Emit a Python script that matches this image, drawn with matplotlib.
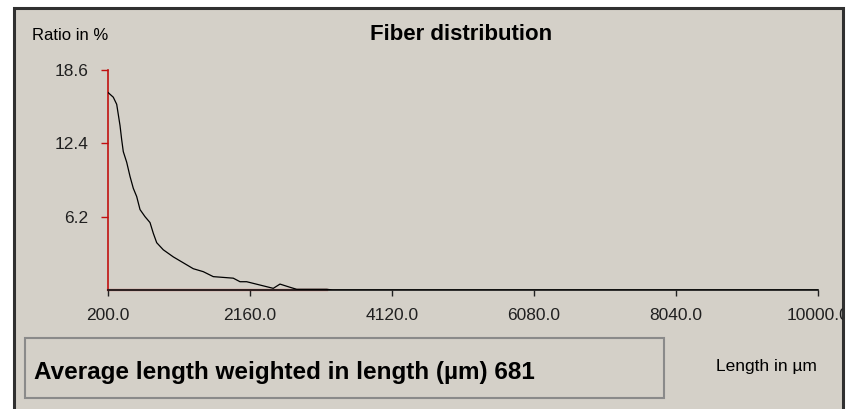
import matplotlib.pyplot as plt
from matplotlib.patches import Rectangle

# fiber length distribution (µm vs ratio in %)
length_um = [200, 273, 320, 366, 389, 411, 458, 504, 549, 596, 642, 711, 780,
             825, 872, 963, 1101, 1239, 1377, 1515, 1653, 1929, 2022, 2114,
             2298, 2481, 2574, 2712, 2804, 3218, 3300, 10000]
ratio_pct = [16.7, 16.3, 15.7, 13.9, 12.7, 11.7, 10.8, 9.6, 8.6, 7.9, 6.8, 6.2,
             5.7, 4.8, 4.0, 3.4, 2.8, 2.3, 1.8, 1.55, 1.13, 1.0, 0.7, 0.7,
             0.42, 0.14, 0.5, 0.23, 0.06, 0.06, 0.0, 0.0]
x_ticks = [200.0, 2160.0, 4120.0, 6080.0, 8040.0, 10000.0]
y_ticks = [6.2, 12.4, 18.6]
title = "Fiber distribution"
avg_text = "Average length weighted in length (µm) 681"

W, H = 852, 409
BG = '#d4d0c8'
RED = '#c01010'
FONT = ['Liberation Sans', 'DejaVu Sans']


def fx(x):
    return x / W


def fy(y):
    return 1 - y / H


fig = plt.figure(figsize=(W / 100, H / 100), dpi=100)
fig.patch.set_facecolor('white')

# window frame
frame = Rectangle((fx(14), fy(420)), fx(843) - fx(14), fy(8) - fy(420),
                  transform=fig.transFigure, facecolor=BG,
                  edgecolor='#303030', linewidth=2.2, zorder=-2)
fig.patches.append(frame)

ax = fig.add_axes([fx(108), fy(290), fx(818) - fx(108), fy(70) - fy(290)])
ax.set_facecolor('none')
ax.plot(length_um, ratio_pct, color='black', linewidth=0.9, zorder=3)
last = max(x for x, y in zip(length_um, ratio_pct) if y > 0)
ax.plot([length_um[0], last], [0, 0], color=RED, linewidth=1.6, alpha=0.8,
        clip_on=False, zorder=2)

ax.set_xlim(200, 10000)
ax.set_ylim(0, 18.6)
ax.set_xticks(x_ticks)
ax.set_xticklabels([f"{v:.1f}" for v in x_ticks], family=FONT, fontsize=12.5)
ax.set_yticks(y_ticks)
ax.set_yticklabels([f"{v:.1f}" for v in y_ticks], family=FONT, fontsize=12.5)
for s in ['top', 'right']:
    ax.spines[s].set_visible(False)
ax.spines['left'].set_color(RED)
ax.spines['left'].set_linewidth(1.2)
ax.spines['bottom'].set_color('#202020')
ax.spines['bottom'].set_linewidth(1.3)
ax.tick_params(axis='x', length=4, width=1, color='#202020', pad=9, labelcolor='#202020')
ax.tick_params(axis='y', length=5, width=1, color=RED, pad=9, labelcolor='#202020')

# the last label runs into the window edge and gets cut there
for lbl in ax.get_xticklabels():
    lbl.set_clip_path(frame)
    lbl.set_clip_on(True)

fig.text(fx(461), fy(34), title, ha='center', va='center', fontsize=16,
         fontweight='bold', family=FONT)
fig.text(fx(32), fy(36), "Ratio in %", ha='left', va='center', fontsize=12,
         family=FONT)

# bottom info box
fig.patches.append(Rectangle((fx(25), fy(398)), fx(664) - fx(25), fy(338) - fy(398),
                             transform=fig.transFigure, facecolor=BG,
                             edgecolor='#8a8a8a', linewidth=1.5, zorder=-1))
fig.text(fx(34), fy(372), avg_text, ha='left', va='center', fontsize=17.5,
         fontweight='bold', family=FONT)
fig.text(fx(766), fy(366), "Length in µm", ha='center', va='center', fontsize=12.5,
         family=FONT)

fig.savefig('out.png', dpi=100, facecolor=fig.get_facecolor())
